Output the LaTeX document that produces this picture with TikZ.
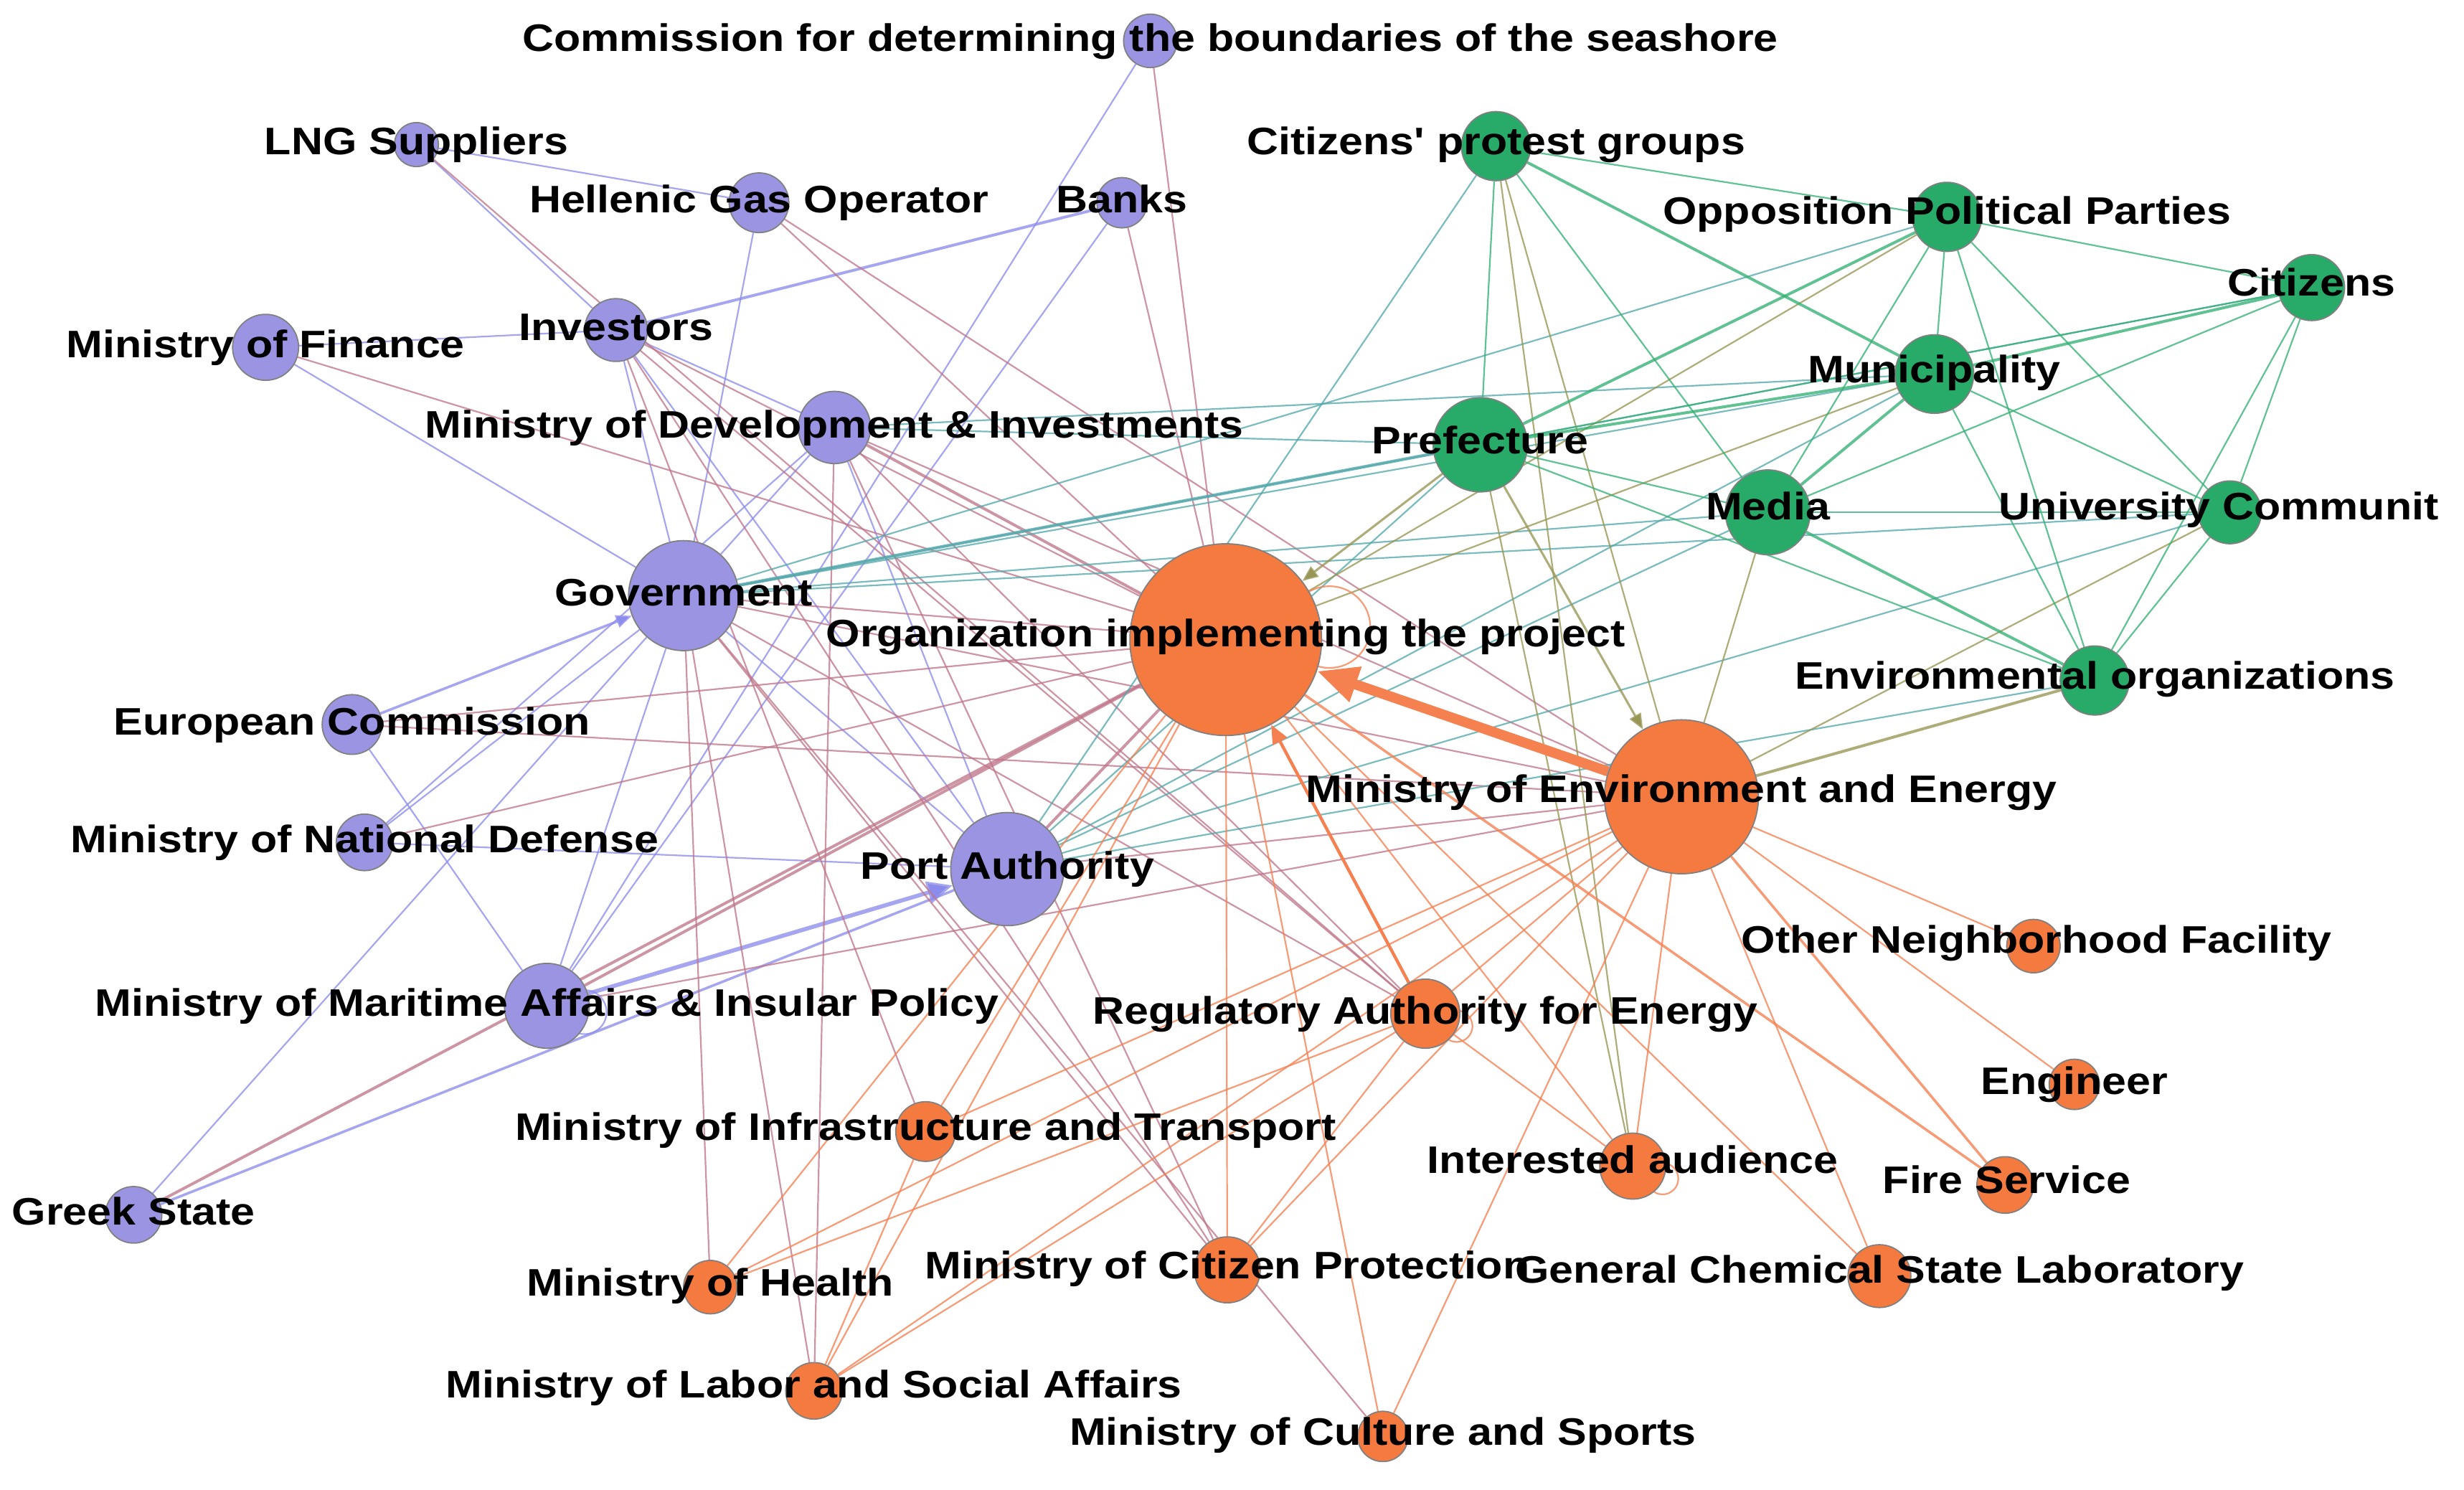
\documentclass[tikz,border=0pt]{standalone}
\usepackage{fontspec}
\newfontfamily\lblfont{Liberation Sans}[FakeStretch=1.14]
\usetikzlibrary{arrows.meta}
\pgfdeclarelayer{bgl}
\pgfdeclarelayer{edl}
\pgfsetlayers{bgl,edl,main}
\definecolor{npur}{RGB}{154,148,226}
\definecolor{nora}{RGB}{244,122,64}
\definecolor{ngrn}{RGB}{40,170,105}
\definecolor{epp}{RGB}{140,140,236}
\definecolor{epo}{RGB}{192,118,138}
\definecolor{epg}{RGB}{85,168,172}
\definecolor{eog}{RGB}{152,150,84}
\definecolor{eoo}{RGB}{245,128,80}
\definecolor{egg}{RGB}{52,176,116}
\begin{document}
\begin{tikzpicture}[x=0.5pt,y=-0.5pt,
  nd/.style={circle,draw=black!50,line width=0.4pt,inner sep=0pt},
  pur/.style={nd,fill=npur},
  ora/.style={nd,fill=nora},
  grn/.style={nd,fill=ngrn},
  lbl/.style={font=\lblfont\bfseries\fontsize{12.2}{14}\selectfont,anchor=base,inner sep=0pt,text=black},
  ed/.style={line width=0.5pt,draw opacity=0.78},
  pp/.style={ed,draw=epp},
  po/.style={ed,draw=epo},
  pg/.style={ed,draw=epg},
  og/.style={ed,draw=eog},
  oo/.style={ed,draw=eoo},
  gg/.style={ed,draw=egg},
  thk/.style={line width=0.9pt}]
\useasboundingbox (0,0) rectangle (1568,948);
\begin{pgfonlayer}{bgl}
\fill[white] (0,0) rectangle (1568,948);
\end{pgfonlayer}
% purple nodes
\node[pur,minimum size=17pt] (comm) at (732,26) {};
\node[pur,minimum size=14pt] (lng) at (265,92) {};
\node[pur,minimum size=19pt] (hgo) at (483,129) {};
\node[pur,minimum size=16pt] (banks) at (714,129) {};
\node[pur,minimum size=21pt] (mof) at (169,221) {};
\node[pur,minimum size=20pt] (inv) at (392,210) {};
\node[pur,minimum size=23pt] (mdev) at (531,272) {};
\node[pur,minimum size=35pt] (gov) at (435,379) {};
\node[pur,minimum size=19pt] (ec) at (224,461) {};
\node[pur,minimum size=18pt] (ndef) at (232,536) {};
\node[pur,minimum size=36pt] (pa) at (641,553) {};
\node[pur,minimum size=27pt] (mar) at (348,640) {};
\node[pur,minimum size=18pt] (gs) at (85,773) {};
% orange nodes
\node[ora,minimum size=61pt] (org) at (780,407) {};
\node[ora,minimum size=49pt] (menv) at (1070,507) {};
\node[ora,minimum size=22pt] (ra) at (907,645) {};
\node[ora,minimum size=17pt] (onf) at (1294,602) {};
\node[ora,minimum size=16pt] (eng) at (1320,690) {};
\node[ora,minimum size=18pt] (fire) at (1276,754) {};
\node[ora,minimum size=21pt] (int) at (1039,742) {};
\node[ora,minimum size=20pt] (gcl) at (1196,812) {};
\node[ora,minimum size=19pt] (infra) at (589,720) {};
\node[ora,minimum size=17pt] (health) at (452,819) {};
\node[ora,minimum size=21pt] (cp) at (781,808) {};
\node[ora,minimum size=18pt] (labor) at (518,885) {};
\node[ora,minimum size=16pt] (cult) at (880,914) {};
% green nodes
\node[grn,minimum size=22pt] (prot) at (952,93) {};
\node[grn,minimum size=22pt] (opp) at (1239,138) {};
\node[grn,minimum size=21pt] (cit) at (1471,183) {};
\node[grn,minimum size=25pt] (mun) at (1231,238) {};
\node[grn,minimum size=30pt] (pref) at (942,283) {};
\node[grn,minimum size=27pt] (media) at (1125,326) {};
\node[grn,minimum size=20pt] (univ) at (1419,326) {};
\node[grn,minimum size=22pt] (envo) at (1333,433) {};
% edges
\begin{pgfonlayer}{edl}
\foreach \a/\b in {lng/hgo,lng/inv,hgo/gov,mof/inv,mof/gov,inv/gov,inv/pa,inv/mdev,mdev/gov,mdev/pa,mdev/ndef,banks/mar,comm/mar,gov/ndef,gov/mar,gov/pa,gov/gs,ec/mar,ndef/pa}
  \draw[pp] (\a) -- (\b);
\draw[pp,thk] (inv) -- (banks);
\draw[pp,line width=0.8pt] (gs) -- (pa);
\draw[pp,line width=0.8pt,-{Triangle[length=5pt,width=4pt]}] (ec) -- (gov);
\draw[pp,line width=1.3pt,-{Triangle[length=8pt,width=7pt]}] (mar) -- (pa);
\foreach \a/\b in {comm/org,banks/org,hgo/org,hgo/menv,lng/ra,mof/org,inv/org,inv/ra,inv/cp,inv/infra,mdev/menv,mdev/ra,mdev/labor,mdev/cp,gov/org,gov/menv,gov/ra,gov/health,gov/labor,gov/cult,gov/cp,ec/org,ec/menv,ndef/org,mar/menv,pa/menv}
  \draw[po] (\a) -- (\b);
\foreach \a/\b in {mdev/org,mar/org,pa/org,gs/org}
  \draw[po,thk] (\a) -- (\b);
\foreach \a/\b in {gov/mun,gov/media,gov/opp,gov/cit,gov/univ,mdev/pref,mdev/mun,pa/prot,pa/pref,pa/mun,pa/media,pa/envo,pa/univ}
  \draw[pg] (\a) -- (\b);
\draw[pg,line width=1pt] (gov) -- (pref);
\foreach \a/\b in {pref/int,prot/menv,prot/int,media/menv,univ/menv,mun/org,opp/org}
  \draw[og] (\a) -- (\b);
\draw[og,thk] (envo) -- (menv);
\draw[og,line width=0.7pt,-{Triangle[length=5pt,width=4pt]}] (pref) -- (org);
\draw[og,line width=0.7pt,-{Triangle[length=5pt,width=4pt]}] (pref) -- (menv);
\foreach \a/\b in {prot/opp,prot/pref,prot/media,pref/media,pref/envo,pref/cit,opp/cit,opp/mun,opp/media,opp/univ,opp/envo,mun/univ,mun/envo,media/cit,media/univ,cit/univ,cit/envo,univ/envo}
  \draw[gg] (\a) -- (\b);
\foreach \a/\b in {prot/mun,pref/opp,pref/mun,mun/cit,mun/media,media/envo}
  \draw[gg,thk] (\a) -- (\b);
\foreach \a/\b in {org/cp,org/cult,org/infra,org/health,org/labor,org/int,org/gcl,menv/ra,menv/infra,menv/health,menv/labor,menv/cp,menv/cult,menv/int,menv/gcl,menv/eng,menv/onf,ra/cp,ra/health,ra/labor,ra/int,infra/labor}
  \draw[oo] (\a) -- (\b);
\draw[oo,line width=0.8pt] (org) -- (fire);
\draw[oo,line width=0.8pt] (menv) -- (fire);
\draw[oo,line width=1pt,draw opacity=1,-{Triangle[length=6pt,width=5pt]}] (ra) -- (org);
\draw[oo,line width=3.2pt,draw opacity=1,-{Triangle[length=13pt,width=11pt]}] (menv) -- (org);
% self loops
\draw[oo] (org.center) ++(66,-8) circle[radius=13pt];
\draw[oo] (ra.center) ++(20,8) circle[radius=5pt];
\draw[oo] (int.center) ++(19,8) circle[radius=5pt];
\draw[pp] (mar.center) ++(24,4) circle[radius=7pt];
\end{pgfonlayer}
% labels
\node[lbl] at (732,32.5) {Commission for determining the boundaries of the seashore};
\node[lbl] at (265,98.5) {LNG Suppliers};
\node[lbl] at (483,135.5) {Hellenic Gas Operator};
\node[lbl] at (714,135.5) {Banks};
\node[lbl] at (169,227.5) {Ministry of Finance};
\node[lbl] at (392,216.5) {Investors};
\node[lbl] at (531,278.5) {Ministry of Development \& Investments};
\node[lbl] at (435,385.5) {Government};
\node[lbl] at (224,467.5) {European Commission};
\node[lbl] at (232,542.5) {Ministry of National Defense};
\node[lbl] at (641,559.5) {Port Authority};
\node[lbl] at (348,646.5) {Ministry of Maritime Affairs \& Insular Policy};
\node[lbl] at (85,779.5) {Greek State};
\node[lbl] at (780,411.5) {Organization implementing the project};
\node[lbl] at (1070,510.5) {Ministry of Environment and Energy};
\node[lbl] at (907,651.5) {Regulatory Authority for Energy};
\node[lbl] at (1296,606.5) {Other Neighborhood Facility};
\node[lbl] at (1320,696.5) {Engineer};
\node[lbl] at (1277,759.5) {Fire Service};
\node[lbl] at (1039,746.5) {Interested audience};
\node[lbl] at (1196,816.5) {General Chemical State Laboratory};
\node[lbl] at (589,725.5) {Ministry of Infrastructure and Transport};
\node[lbl] at (452,824.5) {Ministry of Health};
\node[lbl] at (781,813.5) {Ministry of Citizen Protection};
\node[lbl] at (518,889.5) {Ministry of Labor and Social Affairs};
\node[lbl] at (880,919.5) {Ministry of Culture and Sports};
\node[lbl] at (952,98.5) {Citizens' protest groups};
\node[lbl] at (1239,142.5) {Opposition Political Parties};
\node[lbl] at (1471,188.5) {Citizens};
\node[lbl] at (1231,243.5) {Municipality};
\node[lbl] at (942,288.5) {Prefecture};
\node[lbl] at (1125,330.5) {Media};
\node[lbl] at (1412,330.5) {University Communit};
\node[lbl] at (1333,438.5) {Environmental organizations};
\end{tikzpicture}
\end{document}
